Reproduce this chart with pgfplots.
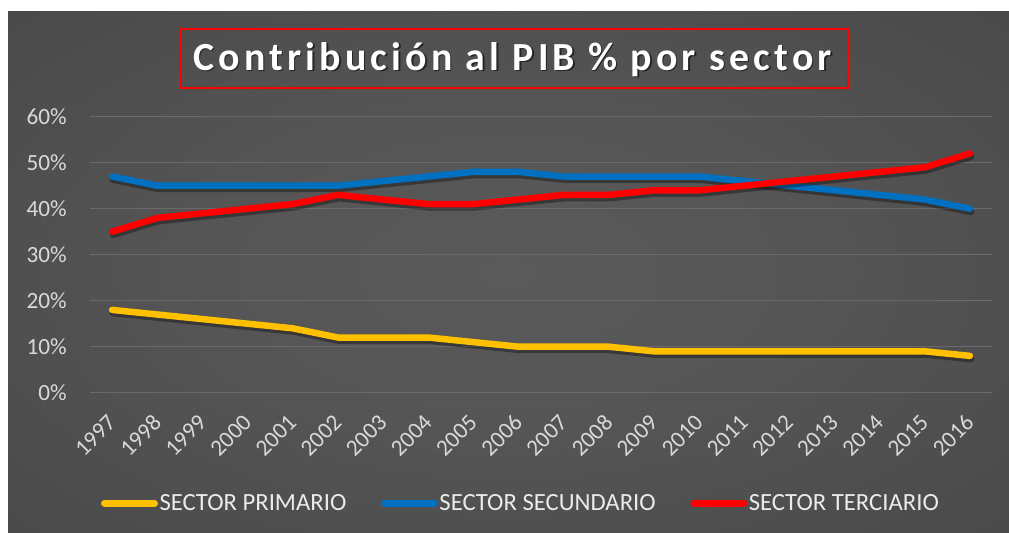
\documentclass[border=0pt]{standalone}
\usepackage{fontspec}
\setmainfont{Carlito}
\newfontfamily\titlefont[LetterSpace=10.5]{Carlito Bold}
\usepackage{pgfplots}
\pgfplotsset{compat=1.18}
\definecolor{cyel}{HTML}{FFC000}
\definecolor{cblu}{HTML}{0070C0}
\definecolor{cred}{HTML}{FF0000}
\definecolor{bga}{HTML}{5A5A5A}
\definecolor{bgb}{HTML}{555555}
\definecolor{bgc}{HTML}{4A4A4A}
\definecolor{bgd}{HTML}{393939}
\definecolor{bge}{HTML}{262626}
\definecolor{gridc}{HTML}{6A6A6A}
\definecolor{tickc}{HTML}{D9D9D9}
\pgfdeclareradialshading{bgshade}{\pgfpoint{0bp}{0bp}}{color(0bp)=(bga); color(15bp)=(bgb); color(35bp)=(bgc); color(55bp)=(bgd); color(75bp)=(bge)}
\begin{document}
\begin{tikzpicture}
\path[use as bounding box, fill=white] (0bp,0bp) rectangle (1009bp,533bp);
\shade[shading=bgshade] (8bp,0bp) rectangle (1009bp,521bp);
% title
\draw[cred, line width=2bp] (181bp,445bp) rectangle (848bp,504bp);
\node[text=black, opacity=0.55] at (514bp,472bp) {\titlefont\fontsize{40}{46}\selectfont Contribución al PIB \% por sector};
\node[text=white] at (512.5bp,473.5bp) {\titlefont\fontsize{40}{46}\selectfont Contribución al PIB \% por sector};
\begin{axis}[
  at={(90bp,140.3bp)}, anchor=south west,
  scale only axis, width=902bp, height=276bp,
  xmin=1996.51, xmax=2016.49, ymin=0, ymax=60,
  axis line style={draw=none},
  major tick length=0pt,
  ymajorgrids, grid style={gridc, line width=1.3bp},
  ytick={0,10,...,60},
  yticklabel={\pgfmathprintnumber{\tick}\%},
  xtick={1997,...,2016},
  xticklabel style={/pgf/number format/1000 sep={}, yshift=-26bp, xshift=0bp, rotate=45, anchor=east, inner sep=0pt},
  yticklabel style={anchor=east, inner sep=0pt, xshift=-23bp},
  /pgf/number format/assume math mode=true,
  ticklabel style={text=tickc, font=\fontsize{23.3}{27}\selectfont},
  legend columns=3,
  legend style={at={(0.012,-0.40)}, anchor=west, draw=none, fill=none, inner sep=0pt,
    font=\fontsize{24.8}{29}\selectfont, text=white!92!black,
    nodes={inner sep=1.5bp},
    /tikz/every even column/.append style={column sep=33bp}},
  legend image code/.code={\draw[#1, line width=7bp, line cap=round] (3.5bp,0bp) -- (53.5bp,0bp);},
  every axis plot/.append style={line join=round, line cap=round},
]
\addplot[black, opacity=0.35, line width=7bp, yshift=-3bp, xshift=1bp, forget plot] coordinates {(1997,18)(1998,17)(1999,16)(2000,15)(2001,14)(2002,12)(2003,12)(2004,12)(2005,11)(2006,10)(2007,10)(2008,10)(2009,9)(2010,9)(2011,9)(2012,9)(2013,9)(2014,9)(2015,9)(2016,8)};
\addplot[cyel, line width=6.5bp] coordinates {(1997,18)(1998,17)(1999,16)(2000,15)(2001,14)(2002,12)(2003,12)(2004,12)(2005,11)(2006,10)(2007,10)(2008,10)(2009,9)(2010,9)(2011,9)(2012,9)(2013,9)(2014,9)(2015,9)(2016,8)};
\addlegendentry{SECTOR PRIMARIO}
\addplot[black, opacity=0.35, line width=7bp, yshift=-3bp, xshift=1bp, forget plot] coordinates {(1997,47)(1998,45)(1999,45)(2000,45)(2001,45)(2002,45)(2003,46)(2004,47)(2005,48)(2006,48)(2007,47)(2008,47)(2009,47)(2010,47)(2011,46)(2012,45)(2013,44)(2014,43)(2015,42)(2016,40)};
\addplot[cblu, line width=6.5bp] coordinates {(1997,47)(1998,45)(1999,45)(2000,45)(2001,45)(2002,45)(2003,46)(2004,47)(2005,48)(2006,48)(2007,47)(2008,47)(2009,47)(2010,47)(2011,46)(2012,45)(2013,44)(2014,43)(2015,42)(2016,40)};
\addlegendentry{SECTOR SECUNDARIO}
\addplot[black, opacity=0.35, line width=7bp, yshift=-3bp, xshift=1bp, forget plot] coordinates {(1997,35)(1998,38)(1999,39)(2000,40)(2001,41)(2002,43)(2003,42)(2004,41)(2005,41)(2006,42)(2007,43)(2008,43)(2009,44)(2010,44)(2011,45)(2012,46)(2013,47)(2014,48)(2015,49)(2016,52)};
\addplot[cred, line width=6.5bp] coordinates {(1997,35)(1998,38)(1999,39)(2000,40)(2001,41)(2002,43)(2003,42)(2004,41)(2005,41)(2006,42)(2007,43)(2008,43)(2009,44)(2010,44)(2011,45)(2012,46)(2013,47)(2014,48)(2015,49)(2016,52)};
\addlegendentry{SECTOR TERCIARIO}
\end{axis}
\end{tikzpicture}
\end{document}
